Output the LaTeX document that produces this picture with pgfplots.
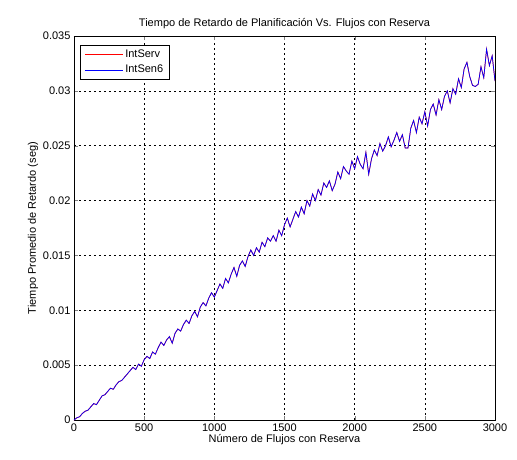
\documentclass[border=0pt]{standalone}
\usepackage{pgfplots}
\pgfplotsset{compat=1.18}
\usepackage{pgfplotstable}
\usepackage{fontspec}
\setmainfont{Liberation Sans}

% retardo promedio vs numero de flujos
\pgfplotstableread{
x y
0 0.0000
20 0.0002
40 0.0003
60 0.0006
80 0.0008
100 0.0009
120 0.0012
140 0.0015
160 0.0014
180 0.0018
200 0.0022
220 0.0023
240 0.0026
260 0.0029
280 0.0028
300 0.0032
320 0.0035
340 0.0036
360 0.0039
380 0.0042
400 0.0045
420 0.0048
440 0.0046
460 0.0051
480 0.0049
500 0.0055
520 0.0058
540 0.0056
560 0.0062
580 0.0060
600 0.0066
620 0.0071
640 0.0068
660 0.0073
680 0.0076
700 0.0070
720 0.0079
740 0.0083
760 0.0081
780 0.0087
800 0.0091
820 0.0088
840 0.0095
860 0.0099
880 0.0094
900 0.0103
920 0.0107
940 0.0104
960 0.0111
980 0.0116
1000 0.0112
1020 0.0118
1040 0.0124
1060 0.0120
1080 0.0129
1100 0.0125
1120 0.0133
1140 0.0139
1160 0.0131
1180 0.0141
1200 0.0145
1220 0.0140
1240 0.0149
1260 0.0155
1280 0.0150
1300 0.0157
1320 0.0153
1340 0.0162
1360 0.0158
1380 0.0166
1400 0.0163
1420 0.0168
1440 0.0163
1460 0.0173
1480 0.0168
1500 0.0178
1520 0.0184
1540 0.0176
1560 0.0183
1580 0.0190
1600 0.0185
1620 0.0194
1640 0.0188
1660 0.0200
1680 0.0195
1700 0.0206
1720 0.0200
1740 0.0210
1760 0.0205
1780 0.0216
1800 0.0212
1820 0.0218
1840 0.0209
1860 0.0215
1880 0.0226
1900 0.0220
1920 0.0231
1940 0.0227
1960 0.0224
1980 0.0236
2000 0.0229
2020 0.0240
2040 0.0233
2060 0.0229
2080 0.0244
2100 0.0224
2120 0.0238
2140 0.0246
2160 0.0241
2180 0.0252
2200 0.0245
2220 0.0250
2240 0.0258
2260 0.0249
2280 0.0255
2300 0.0262
2320 0.0254
2340 0.0260
2360 0.0248
2380 0.0248
2400 0.0266
2420 0.0273
2440 0.0262
2460 0.0276
2480 0.0270
2500 0.0281
2520 0.0268
2540 0.0283
2560 0.0288
2580 0.0278
2600 0.0292
2620 0.0283
2640 0.0295
2660 0.0300
2680 0.0289
2700 0.0302
2720 0.0297
2740 0.0311
2760 0.0303
2780 0.0320
2800 0.0326
2820 0.0313
2840 0.0305
2860 0.0304
2880 0.0306
2900 0.0322
2920 0.0312
2940 0.0338
2960 0.0323
2980 0.0332
3000 0.0309
}\retardo

\begin{document}
\begin{tikzpicture}
  \path[use as bounding box] (-74pt,-39pt) rectangle (443pt,420pt);
  \begin{axis}[
    scale only axis,
    width=421pt, height=384pt,
    xmin=0, xmax=3000,
    ymin=0, ymax=0.035,
    xtick={0,500,...,3000},
    ytick={0,0.005,...,0.035},
    scaled y ticks=false,
    scaled x ticks=false,
    xticklabel style={/pgf/number format/1000 sep={}},
    yticklabel style={/pgf/number format/fixed, /pgf/number format/precision=3},
    /pgf/number format/assume math mode=true,
    tick align=inside,
    tick pos=both,
    major tick length=4pt,
    grid=major,
    major grid style={black, dash pattern=on 2pt off 3pt, line width=0.5pt},
    axis line style={black, line width=0.6pt},
    font=\fontsize{11}{13}\selectfont,
    title={Tiempo de Retardo de Planificación Vs. Flujos con Reserva},
    title style={yshift=-2pt},
    xlabel={Número de Flujos con Reserva},
    ylabel={Tiempo Promedio de Retardo (seg)},
    xlabel style={yshift=4pt},
    ylabel style={yshift=-2pt},
    legend style={at={(0.015,0.977)}, anchor=north west, draw=black,
      line width=0.6pt, font=\fontsize{11}{13}\selectfont,
      row sep=2pt, inner xsep=4pt, inner ysep=3pt},
    legend cell align=left,
    legend image code/.code={\draw[#1] (0pt,0pt) -- (38pt,0pt);},
  ]
    \addplot[red, line width=0.7pt] table[x=x, y=y] {\retardo};
    \addplot[blue, line width=0.7pt] table[x=x, y=y] {\retardo};
    \legend{IntServ, IntSen6}
  \end{axis}
\end{tikzpicture}
\end{document}
